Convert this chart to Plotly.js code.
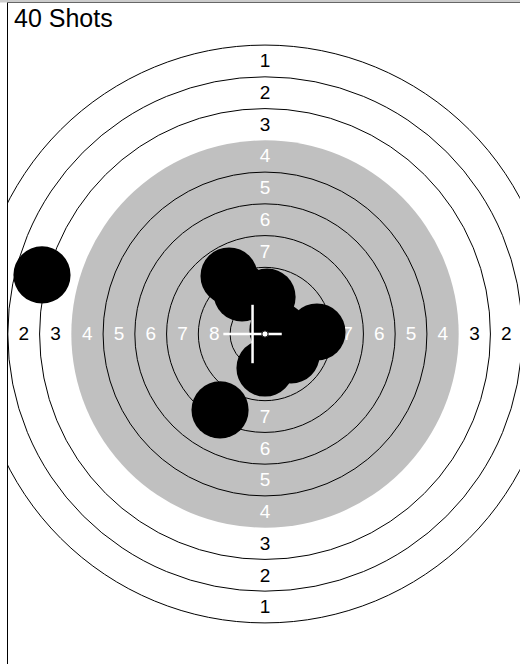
<!DOCTYPE html>
<html>
<head>
<meta charset="utf-8">
<script src="https://cdn.plot.ly/plotly-3.0.1.min.js"></script>
<style>
html, body { margin: 0; padding: 0; overflow: hidden; background: #ffffff; }
#chart { width: 560px; height: 720px; }
</style>
</head>
<body>
<div id="chart"></div>
<script>
// ---- data (10 m air rifle target, millimetres) ----
const chartTitle = "40 Shots";
const ringNumbers = [1, 2, 3, 4, 5, 6, 7, 8, 9, 10];
const ringRadiiMm = [22.75, 20.25, 17.75, 15.25, 12.75, 10.25, 7.75, 5.25, 2.75, 0.25];
const aimingBlackFromRing = 4;
const labelledRings = [1, 2, 3, 4, 5, 6, 7, 8];
const pelletRadiusMm = 2.25;
// visible shot centres (mm from target centre)
const shotX = [-17.56, -2.83, -1.81, 0.16, 1.02, 4.09, 2.05, 0.00, -3.54];
const shotY = [4.65, 4.57, 3.23, 2.91, 0.31, 0.16, -1.65, -2.68, -5.98];
// mean point of impact (crosshair)
const mpiX = [-0.98];
const mpiY = [0.0];
const crossHalfMm = 2.3;

// ---- geometry of the view ----
const W = 560, H = 720, mL = 8, mT = 3;
const pxPerMm = 12.7;
const cx = 265, cy = 334; // page pixels of target centre
const xRange = [-(cx - mL) / pxPerMm, (W - cx) / pxPerMm];
const yRange = [(cy - H) / pxPerMm, (cy - mT) / pxPerMm];
const labelDropPx = 1.5;

const FONT = "Liberation Sans, Arial, Helvetica, sans-serif";
const GRAY = "#c0c0c0";

function circle(r, x, y, fill, lineColor, lineWidth, layer) {
  return {
    type: "circle", xref: "x", yref: "y",
    x0: x - r, x1: x + r, y0: y - r, y1: y + r,
    fillcolor: fill, line: { color: lineColor, width: lineWidth }, layer: layer
  };
}

const shapes = [];
// gray aiming area
const blackIdx = ringNumbers.indexOf(aimingBlackFromRing);
shapes.push(circle(ringRadiiMm[blackIdx], 0, 0, GRAY, GRAY, 0, "below"));
// ring lines (1..9)
ringNumbers.forEach((n, i) => {
  if (n === aimingBlackFromRing || n === 10) return;
  shapes.push(circle(ringRadiiMm[i], 0, 0, "rgba(0,0,0,0)", "#000000", 1, "below"));
});
// shots
for (let i = 0; i < shotX.length; i++) {
  shapes.push(circle(pelletRadiusMm, shotX[i], shotY[i], "#000000", "#000000", 0, "above"));
}
// crosshair
shapes.push({ type: "line", xref: "x", yref: "y", x0: mpiX[0] - crossHalfMm, x1: mpiX[0] + crossHalfMm,
  y0: mpiY[0], y1: mpiY[0], line: { color: "#ffffff", width: 2.5 }, layer: "above" });
shapes.push({ type: "line", xref: "x", yref: "y", x0: mpiX[0], x1: mpiX[0],
  y0: mpiY[0] - crossHalfMm, y1: mpiY[0] + crossHalfMm, line: { color: "#ffffff", width: 2.5 }, layer: "above" });
// ten dot
shapes.push(circle(ringRadiiMm[9], 0, 0, "#ffffff", "#000000", 1, "above"));
// top strip
shapes.push({ type: "rect", xref: "paper", yref: "paper", x0: -0.05, x1: 1.05,
  y0: 1 + 0.6 / (H - mT), y1: 1 + 3.5 / (H - mT),
  fillcolor: "#cccccc", line: { width: 0 }, layer: "above" });

// ring number labels
const lblBlack = { x: [], y: [], t: [] }, lblWhite = { x: [], y: [], t: [] };
const drop = labelDropPx / pxPerMm;
labelledRings.forEach(n => {
  const i = ringNumbers.indexOf(n);
  const r = (ringRadiiMm[i] + ringRadiiMm[i + 1]) / 2;
  const tgt = n >= aimingBlackFromRing ? lblWhite : lblBlack;
  [[0, r], [0, -r], [-r, 0], [r, 0]].forEach(p => {
    tgt.x.push(p[0]); tgt.y.push(p[1] - drop); tgt.t.push(String(n));
  });
});

const traces = [
  { type: "scatter", mode: "text", x: lblBlack.x, y: lblBlack.y, text: lblBlack.t,
    textposition: "middle center", textfont: { family: FONT, size: 19, color: "#000000" },
    hoverinfo: "skip", showlegend: false, cliponaxis: true },
  { type: "scatter", mode: "text", x: lblWhite.x, y: lblWhite.y, text: lblWhite.t,
    textposition: "middle center", textfont: { family: FONT, size: 19, color: "#ffffff" },
    hoverinfo: "skip", showlegend: false, cliponaxis: true }
];

const axisCommon = { showgrid: false, zeroline: false, showticklabels: false, ticks: "",
  showline: true, mirror: true, linecolor: "#000000", linewidth: 1, fixedrange: true, automargin: false };

const layout = {
  width: W, height: H,
  margin: { l: mL, r: 0, t: mT, b: 0, pad: 0 },
  paper_bgcolor: "#ffffff", plot_bgcolor: "#ffffff",
  showlegend: false,
  xaxis: Object.assign({ range: xRange }, axisCommon),
  yaxis: Object.assign({ range: yRange }, axisCommon),
  shapes: shapes,
  annotations: [{ text: chartTitle, xref: "paper", yref: "paper", x: 0, y: 1,
    xanchor: "left", yanchor: "top", xshift: 4, yshift: 1, showarrow: false,
    font: { family: FONT, size: 25, color: "#000000" } }]
};

Plotly.newPlot("chart", traces, layout, { staticPlot: true, displayModeBar: false });
</script>
</body>
</html>
